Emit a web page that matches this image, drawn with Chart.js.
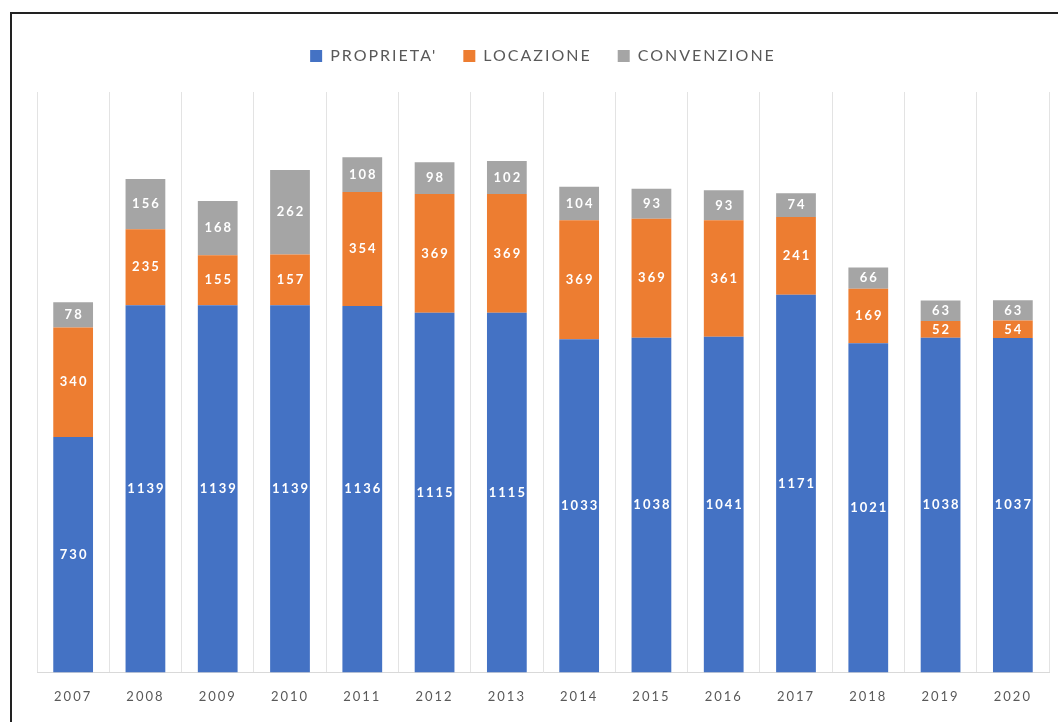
<!DOCTYPE html>
<html>
<head>
<meta charset="utf-8">
<script src="https://cdn.jsdelivr.net/npm/chart.js@4"></script>
<style>
  html, body { margin: 0; padding: 0; background: #fff; overflow: hidden; }
  .frame {
    position: absolute;
    left: 10px;
    top: 12px;
    width: 1048px;
    height: 710px;
    border-left: 2px solid #222;
    border-top: 2px solid #222;
  }
  .frame canvas { display: block; }
</style>
</head>
<body>
<div class="frame">
  <canvas id="myChart" width="1046" height="708"></canvas>
</div>
<script>
// anni
const years = ["2007", "2008", "2009", "2010", "2011", "2012", "2013", "2014", "2015", "2016", "2017", "2018", "2019", "2020"];
// valori per tipo
const proprieta = [730, 1139, 1139, 1139, 1136, 1115, 1115, 1033, 1038, 1041, 1171, 1021, 1038, 1037];
const locazione = [340, 235, 155, 157, 354, 369, 369, 369, 369, 361, 241, 169, 52, 54];
const convenzione = [78, 156, 168, 262, 108, 98, 102, 104, 93, 93, 74, 66, 63, 63];

const seriesNames = ["PROPRIETA'", "LOCAZIONE", "CONVENZIONE"];
const seriesColors = ["#4472C4", "#ED7D31", "#A5A5A5"];

const fontName = "Lato, 'Open Sans', sans-serif";

// il testo dell'originale e' piu' largo: spaziatura lettere sul contesto
const wideText = {
  id: "wideText",
  beforeUpdate(chart) {
    chart.ctx.letterSpacing = "2px";
  },
  beforeLayout(chart) {
    // piu' spazio tra legenda e grafico
    const legend = chart.legend;
    if (legend && !legend._extraGap) {
      const fit = legend.fit;
      legend.fit = function () {
        fit.call(legend);
        legend.height += 18;
      };
      legend._extraGap = true;
    }
  },
};

// etichette bianche al centro di ogni segmento
const segmentLabels = {
  id: "segmentLabels",
  afterDatasetsDraw(chart) {
    const ctx = chart.ctx;
    ctx.save();
    ctx.fillStyle = "#ffffff";
    ctx.font = "bold 13px " + fontName;
    ctx.textAlign = "center";
    ctx.textBaseline = "middle";
    chart.data.datasets.forEach((ds, i) => {
      const meta = chart.getDatasetMeta(i);
      meta.data.forEach((bar, j) => {
        const y = (bar.y + bar.base) / 2;
        ctx.fillText(String(ds.data[j]), bar.x + 1, y);
      });
    });
    ctx.restore();
  },
};

const ctx = document.getElementById("myChart").getContext("2d");
const myChart = new Chart(ctx, {
  type: "bar",
  data: {
    labels: years,
    datasets: [proprieta, locazione, convenzione].map((values, i) => ({
      label: seriesNames[i],
      data: values,
      backgroundColor: seriesColors[i],
      borderWidth: 0,
      barPercentage: 0.55,
      categoryPercentage: 1,
    })),
  },
  options: {
    responsive: false,
    animation: false,
    layout: {
      padding: { left: 25, right: 9, top: 8, bottom: 0 },
    },
    plugins: {
      legend: {
        position: "top",
        labels: {
          boxWidth: 12,
          boxHeight: 12,
          color: "#595959",
          font: { family: fontName, size: 16 },
          padding: 26,
        },
      },
      tooltip: { enabled: false },
    },
    scales: {
      x: {
        stacked: true,
        grid: {
          offset: true,
          color: "#e3e3e3",
          drawTicks: false,
        },
        border: { color: "#d9d9d9" },
        ticks: {
          color: "#595959",
          font: { family: fontName, size: 13 },
          padding: 17,
        },
      },
      y: {
        stacked: true,
        display: false,
        min: 0,
        max: 1800,
      },
    },
  },
  plugins: [wideText, segmentLabels],
});
</script>
</body>
</html>
